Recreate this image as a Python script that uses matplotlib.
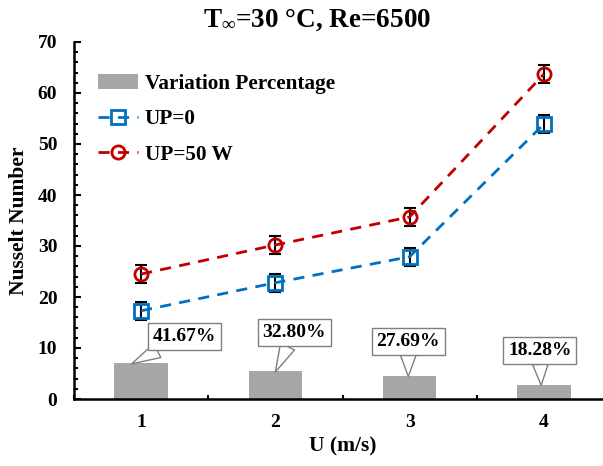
import matplotlib
matplotlib.use("Agg")
import matplotlib.pyplot as plt
from matplotlib.ticker import MultipleLocator

plt.rcParams['font.family'] = ['Liberation Serif', 'DejaVu Serif']
plt.rcParams['font.weight'] = 'bold'
plt.rcParams['mathtext.fontset'] = 'custom'
plt.rcParams['mathtext.rm'] = 'Liberation Serif:bold'
plt.rcParams['mathtext.it'] = 'Liberation Serif:bold'
plt.rcParams['mathtext.bf'] = 'Liberation Serif:bold'

U = [1, 2, 3, 4]
nu_up0 = [17.3, 22.8, 27.9, 53.9]
nu_up50 = [24.5, 30.2, 35.7, 63.7]
err_up0 = [1.8, 1.8, 1.8, 1.8]
err_up50 = [1.8, 1.8, 1.8, 1.8]
variation_bar = [7.0, 5.4, 4.5, 2.8]
variation_labels = ['41.67%', '32.80%', '27.69%', '18.28%']
label_pos = [(1.32, 12.2), (2.14, 13.0), (2.99, 11.3), (3.97, 9.5)]
label_tip = [(0.93, 6.9), (2.0, 5.3), (2.99, 4.4), (3.98, 2.7)]

fig = plt.figure(figsize=(6.03, 4.66), dpi=100)
ax = fig.add_axes([74/603, 67/466, 537/603, 357/466])

b = ax.bar(U, variation_bar, width=0.4, color='#A6A6A6', label='Variation Percentage', zorder=2)

ax.errorbar(U, nu_up0, yerr=err_up0, fmt='none', ecolor='black', elinewidth=1.5, capsize=4, capthick=1.5, zorder=3)
ax.errorbar(U, nu_up50, yerr=err_up50, fmt='none', ecolor='black', elinewidth=1.5, capsize=4, capthick=1.5, zorder=3)
l0, = ax.plot(U, nu_up0, linestyle=(0, (4, 3)), color='#0070C0', lw=2, marker='s', ms=9.5,
              mfc='none', mec='#0070C0', mew=2, label='UP=0', zorder=4)
l50, = ax.plot(U, nu_up50, linestyle=(0, (4, 3)), color='#C00000', lw=2, marker='o', ms=9.5,
               mfc='none', mec='#C00000', mew=2, label='UP=50 W', zorder=4)

for txt, pos, tip in zip(variation_labels, label_pos, label_tip):
    ax.annotate(txt, xy=tip, xytext=pos, ha='center', va='center', fontsize=14, fontweight='bold',
                bbox=dict(boxstyle='square,pad=0.25', fc='white', ec='#7F7F7F', lw=1),
                arrowprops=dict(arrowstyle='wedge,tail_width=0.8', fc='white', ec='#7F7F7F', lw=1,
                                shrinkA=0, shrinkB=0), zorder=5)

ax.set_xlim(0.5, 4.5)
ax.set_ylim(0, 70)
ax.set_xticks(U)
ax.xaxis.set_minor_locator(MultipleLocator(0.5))
ax.yaxis.set_major_locator(MultipleLocator(10))
ax.yaxis.set_minor_locator(MultipleLocator(2))
ax.tick_params(axis='both', which='both', direction='in', labelsize=14, width=1.5)
ax.tick_params(axis='both', which='major', length=5)
ax.tick_params(axis='both', which='minor', length=3)
ax.tick_params(axis='x', pad=11)
ax.tick_params(axis='y', pad=12)
for lab in ax.get_xticklabels() + ax.get_yticklabels():
    lab.set_fontweight('bold')

ax.spines['top'].set_visible(False)
ax.spines['right'].set_visible(False)
ax.spines['left'].set_linewidth(1.8)
ax.spines['bottom'].set_linewidth(1.8)

ax.set_xlabel('U (m/s)', fontsize=15.5, fontweight='bold', labelpad=4)
ax.set_ylabel('Nusselt Number', fontsize=15.5, fontweight='bold', labelpad=6)
fig.text(317/603, 0.958, r'T$_\infty$=30 °C, Re=6500', ha='center', va='center',
         fontsize=19.5, fontweight='bold')

leg = ax.legend(handles=[b, l0, l50], loc='upper left', bbox_to_anchor=(24/537, (399-74)/357),
                frameon=False, borderpad=0, borderaxespad=0,
                fontsize=15.3, handlelength=1.9, labelspacing=0.72, handletextpad=0.3)
for t in leg.get_texts():
    t.set_fontweight('bold')

fig.savefig('out.png', dpi=100)
